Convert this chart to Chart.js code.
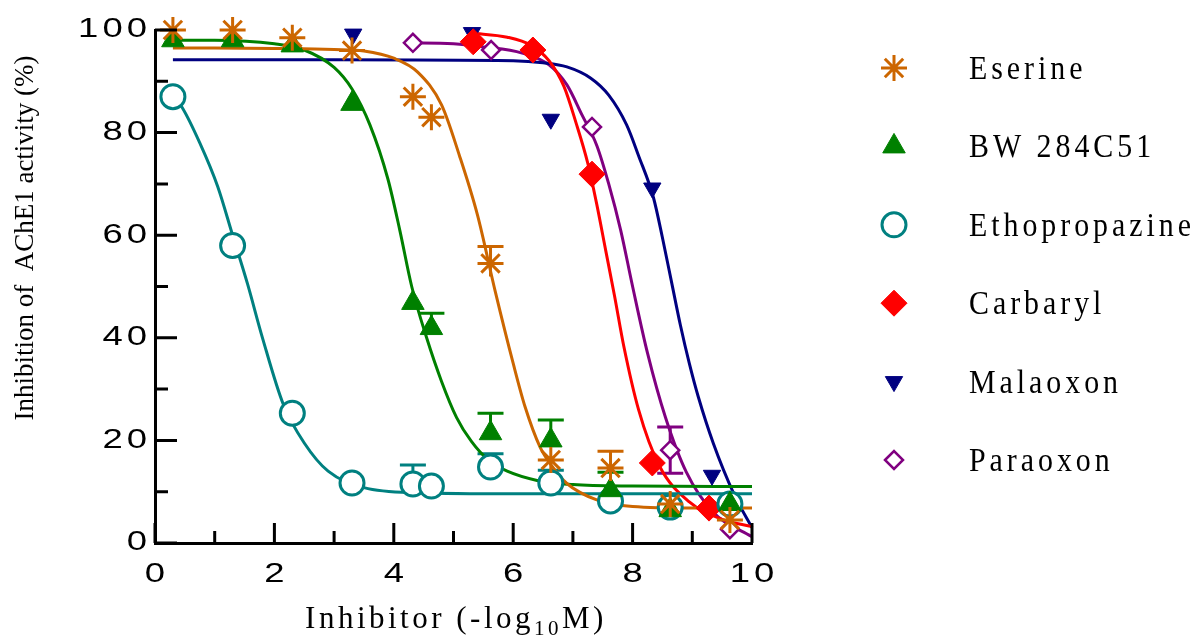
<!DOCTYPE html>
<html>
<head>
<meta charset="utf-8">
<script src="https://cdn.jsdelivr.net/npm/chart.js@4.4.1/dist/chart.umd.min.js"></script>
<style>
  html, body { margin: 0; padding: 0; background: #fff; }
  #wrap { width: 1200px; height: 636px; }
</style>
</head>
<body>
<div id="wrap"><canvas id="ic50Chart" width="1200" height="636"></canvas></div>
<script>
// axis ticks
const xTicks = [0, 2, 4, 6, 8, 10];
const xMinorTicks = [1, 3, 5, 7, 9];
const yTicks = [0, 20, 40, 60, 80, 100];
const yMinorTicks = [10, 30, 50, 70, 90];

const seriesNames = ['Eserine', 'BW 284C51', 'Ethopropazine', 'Carbaryl', 'Malaoxon', 'Paraoxon'];

const doseX = [0.3, 1.3, 2.3, 3.3, 4.32, 4.63, 5.62, 6.63, 7.63, 8.63, 9.63];
const eserineY = [100, 100, 98.5, 96, 87, 83, 54.5, 16.2, 14.6, 7.6, 4.5];
const eserineErr = [0, 0, 0, 0, 0, 0, 3.3, 0, 3.3, 0, 1.9];
const bwY = [98, 98, 97, 85.6, 46.8, 41.9, 21.4, 20, 10.3, 6.4, 7.6];
const bwErr = [0, 0, 0, 0, 0, 2.9, 3.9, 4, 3.5, 0, 0];
const ethoY = [87, 58, 25.3, 11.7, 11.5, 11.1, 14.8, 11.7, 8.2, 7, 7.6];
const ethoErr = [0, 0, 0, 0, 3.7, 0, 2.6, 2.5, 0, 0, 0];

const carbarylX = [5.33, 6.33, 7.32, 8.33, 9.28];
const carbarylY = [97.7, 96.1, 71.9, 15.6, 6.8];
const malaoxonX = [3.32, 5.31, 6.63, 8.33, 9.33];
const malaoxonY = [99.2, 99.5, 82.6, 69.2, 13.2];
const paraoxonX = [4.32, 5.63, 7.32, 8.63, 9.63];
const paraoxonY = [97.5, 96.1, 81.1, 18.1, 2.7];
const paraoxonErr = [0, 0, 0, 4.5, 0];

// fitted dose-response curves
const eserineFitX = [0.3, 1, 2, 3, 3.5, 4, 4.4, 4.8, 5.1, 5.4, 5.7, 6.0, 6.2, 6.45, 6.65, 6.9, 7.4, 8, 9, 10];
const eserineFitY = [96.5, 96.5, 96.4, 96.2, 95.9, 94.5, 91.8, 85.4, 75.5, 64, 49, 35, 26.5, 18.7, 15, 11.6, 8.4, 7.1, 6.8, 6.8];
const bwFitX = [0.3, 1, 2, 2.5, 3, 3.3, 3.6, 3.9, 4.1, 4.3, 4.55, 4.8, 5.05, 5.3, 5.6, 5.9, 6.4, 7, 8, 10];
const bwFitY = [98, 98, 97.3, 96.1, 92.7, 88.5, 81.5, 71, 61, 50, 40, 31.5, 24.5, 19.8, 16, 14, 12.2, 11.4, 11.1, 11];
const ethoFitX = [0.35, 0.45, 0.75, 1.05, 1.3, 1.55, 1.8, 2.15, 2.5, 2.9, 3.5, 4.4, 6, 8, 10];
const ethoFitY = [86.5, 85, 78, 69.5, 60, 50.5, 40, 27, 19.5, 14, 10.8, 9.8, 9.6, 9.6, 9.6];
const carbarylFitX = [5.3, 5.9, 6.3, 6.6, 6.85, 7.05, 7.25, 7.4, 7.55, 7.7, 7.85, 8.1, 8.45, 8.95, 9.5, 10];
const carbarylFitY = [99.4, 98.6, 97, 94, 89, 82, 74, 66, 57, 48, 38.5, 26, 15, 8, 4.6, 3.2];
const malaoxonFitX = [0.3, 3, 6, 6.5, 6.9, 7.3, 7.6, 7.9, 8.1, 8.35, 8.5, 8.65, 8.8, 8.95, 9.1, 9.35, 9.7, 10];
const malaoxonFitY = [94.2, 94.2, 94, 93.6, 92.8, 90.6, 87.3, 81.5, 75.5, 67.3, 59.5, 51, 42.5, 35, 28.5, 19.5, 9.5, 3];
const paraoxonFitX = [4.2, 5, 5.5, 6.15, 6.6, 6.9, 7.15, 7.4, 7.6, 7.8, 8.0, 8.25, 8.55, 8.9, 9.35, 10];
const paraoxonFitY = [97.5, 97.3, 96.7, 95.5, 93.2, 89.3, 83.5, 77.5, 70, 61, 50, 37, 24.5, 13.8, 6, 1.2];

const colors = ['#CC6600', '#008000', '#008080', '#FF0000', '#000080', '#800080'];

// marker look per series
const markers = [
    { pointStyle: 'star', radius: 13, rotation: 0, fill: '#CC6600', borderWidth: 3 },
    { pointStyle: 'triangle', radius: 13, rotation: 0, fill: '#008000', borderWidth: 1 },
    { pointStyle: 'circle', radius: 12, rotation: 0, fill: '#ffffff', borderWidth: 3 },
    { pointStyle: 'rectRot', radius: 13, rotation: 0, fill: '#FF0000', borderWidth: 1 },
    { pointStyle: 'triangle', radius: 10, rotation: 180, fill: '#000080', borderWidth: 1 },
    { pointStyle: 'rectRot', radius: 9, rotation: 0, fill: '#ffffff', borderWidth: 2.5 }
];

function zip(xs, ys) {
    return xs.map((x, i) => ({ x: x, y: ys[i] }));
}

const pointSets = [
    { x: doseX, y: eserineY, err: eserineErr, both: false },
    { x: doseX, y: bwY, err: bwErr, both: false },
    { x: doseX, y: ethoY, err: ethoErr, both: false },
    { x: carbarylX, y: carbarylY, err: null, both: false },
    { x: malaoxonX, y: malaoxonY, err: null, both: false },
    { x: paraoxonX, y: paraoxonY, err: paraoxonErr, both: true }
];
const fitSets = [
    [eserineFitX, eserineFitY], [bwFitX, bwFitY], [ethoFitX, ethoFitY],
    [carbarylFitX, carbarylFitY], [malaoxonFitX, malaoxonFitY], [paraoxonFitX, paraoxonFitY]
];

const datasets = [];
pointSets.forEach((s, i) => {
    const m = markers[i];
    datasets.push({
        label: seriesNames[i],
        data: zip(s.x, s.y),
        showLine: false,
        pointStyle: m.pointStyle,
        pointRadius: m.radius,
        pointRotation: m.rotation,
        pointBackgroundColor: m.fill,
        pointBorderColor: colors[i],
        pointBorderWidth: m.borderWidth,
        errors: s.err,
        errBoth: s.both,
        clip: false,
        order: i
    });
});
fitSets.forEach((f, i) => {
    datasets.push({
        label: seriesNames[i] + ' fit',
        data: zip(f[0], f[1]),
        showLine: true,
        borderColor: colors[i],
        borderWidth: 3,
        pointRadius: 0,
        cubicInterpolationMode: 'monotone',
        clip: false,
        order: 10 + i
    });
});

// error bars (upper, and lower where the figure shows them)
const errorBarPlugin = {
    id: 'errorBars',
    beforeDatasetsDraw(chart) {
        const ctx = chart.ctx;
        const xs = chart.scales.x, ys = chart.scales.y;
        chart.data.datasets.forEach((ds, i) => {
            if (!ds.errors) return;
            ctx.save();
            ctx.strokeStyle = colors[i];
            ctx.lineWidth = 3;
            ds.data.forEach((p, j) => {
                const e = ds.errors[j];
                if (!e) return;
                const px = xs.getPixelForValue(p.x);
                const ends = ds.errBoth ? [p.y + e, p.y - e] : [p.y + e];
                ends.forEach(v => {
                    const py = ys.getPixelForValue(v);
                    ctx.beginPath();
                    ctx.moveTo(px, ys.getPixelForValue(p.y));
                    ctx.lineTo(px, py);
                    ctx.moveTo(px - 13, py);
                    ctx.lineTo(px + 13, py);
                    ctx.stroke();
                });
            });
            ctx.restore();
        });
    }
};

// text squeezed or stretched sideways, like the exported figure
function drawScaledText(ctx, text, x, y, align, stretch, font, spacing) {
    ctx.save();
    ctx.font = font;
    ctx.letterSpacing = spacing + 'px';
    ctx.textBaseline = 'middle';
    ctx.textAlign = 'left';
    const w = (ctx.measureText(text).width - spacing) * stretch;
    let x0 = x;
    if (align === 'right') x0 = x - w;
    if (align === 'center') x0 = x - w / 2;
    ctx.translate(x0, y);
    ctx.scale(stretch, 1);
    ctx.fillStyle = '#000';
    ctx.fillText(text, 0, 0);
    ctx.restore();
}

const tickFont = '27px "Liberation Sans", Arial, sans-serif';
const serif = '"Liberation Serif", "Times New Roman", serif';

// inward ticks, labels, axis titles and the legend column
const axisPlugin = {
    id: 'axisDecor',
    afterDraw(chart) {
        const ctx = chart.ctx;
        const xs = chart.scales.x, ys = chart.scales.y;
        const area = chart.chartArea;
        ctx.save();
        ctx.strokeStyle = '#000';
        ctx.lineWidth = 3;
        ctx.beginPath();
        yTicks.forEach(v => {
            const py = ys.getPixelForValue(v);
            ctx.moveTo(area.left, py); ctx.lineTo(area.left + 22, py);
        });
        yMinorTicks.forEach(v => {
            const py = ys.getPixelForValue(v);
            ctx.moveTo(area.left, py); ctx.lineTo(area.left + 13, py);
        });
        xTicks.forEach(v => {
            const px = xs.getPixelForValue(v);
            ctx.moveTo(px, area.bottom); ctx.lineTo(px, area.bottom - 20);
        });
        xMinorTicks.forEach(v => {
            const px = xs.getPixelForValue(v);
            ctx.moveTo(px, area.bottom); ctx.lineTo(px, area.bottom - 12);
        });
        ctx.stroke();

        yTicks.forEach(v => drawScaledText(ctx, String(v), area.left - 8, ys.getPixelForValue(v), 'right', 1.35, tickFont, 3));
        xTicks.forEach(v => drawScaledText(ctx, String(v), xs.getPixelForValue(v), area.bottom + 32, 'center', 1.35, tickFont, 3));

        // y title
        ctx.fillStyle = '#000';
        ctx.font = '27px ' + serif;
        ctx.letterSpacing = '0px';
        ctx.textAlign = 'center';
        ctx.textBaseline = 'middle';
        ctx.save();
        ctx.translate(26, 238);
        ctx.rotate(-Math.PI / 2);
        ctx.fillText('Inhibition of  AChE1 activity (%)', 0, 0);
        ctx.restore();

        // x title with subscript
        const mainFont = '31px ' + serif;
        const subFont = '21px ' + serif;
        ctx.letterSpacing = '3.5px';
        ctx.textAlign = 'left';
        ctx.textBaseline = 'alphabetic';
        const parts = [['Inhibitor (-log', mainFont, 0], ['10', subFont, 7], ['M)', mainFont, 0]];
        let total = 0;
        parts.forEach(p => { ctx.font = p[1]; total += ctx.measureText(p[0]).width; });
        let tx = 456 - total / 2;
        parts.forEach(p => {
            ctx.font = p[1];
            ctx.fillText(p[0], tx, 628 + p[2]);
            tx += ctx.measureText(p[0]).width;
        });

        // legend
        seriesNames.forEach((name, i) => {
            const y = 68 + i * 78.4;
            const m = markers[i];
            ctx.save();
            ctx.fillStyle = m.fill;
            ctx.strokeStyle = colors[i];
            ctx.lineWidth = m.borderWidth;
            Chart.helpers.drawPoint(ctx, { pointStyle: m.pointStyle, radius: m.radius, rotation: m.rotation, borderWidth: m.borderWidth }, 894, y);
            ctx.restore();
            drawScaledText(ctx, name, 969, y + 2, 'left', 0.88, '34px ' + serif, 4.5);
        });
        ctx.restore();
    }
};

const ctx = document.getElementById('ic50Chart').getContext('2d');
const myChart = new Chart(ctx, {
    type: 'scatter',
    data: { datasets: datasets },
    options: {
        responsive: false,
        animation: false,
        devicePixelRatio: 1,
        layout: { padding: { left: 155, top: 30, right: 448, bottom: 93 } },
        plugins: { legend: { display: false }, tooltip: { enabled: false } },
        scales: {
            x: {
                type: 'linear', min: 0, max: 10,
                grid: { display: false, drawTicks: false },
                ticks: { display: false },
                border: { display: true, color: '#000', width: 3 }
            },
            y: {
                type: 'linear', min: 0, max: 100,
                grid: { display: false, drawTicks: false },
                ticks: { display: false },
                border: { display: true, color: '#000', width: 3 }
            }
        }
    },
    plugins: [errorBarPlugin, axisPlugin]
});
</script>
</body>
</html>
